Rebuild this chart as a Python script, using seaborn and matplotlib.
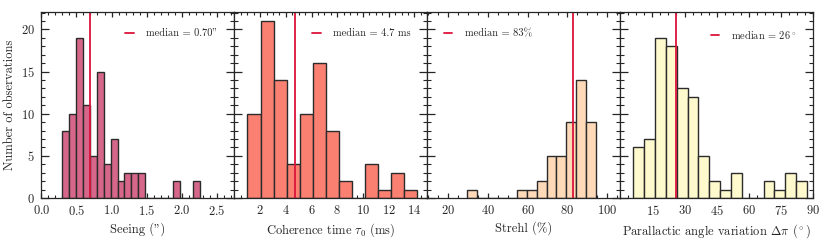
import numpy as np
import pandas as pd
import matplotlib
matplotlib.use("Agg")
import matplotlib.pyplot as plt
import seaborn as sns
from matplotlib.ticker import AutoMinorLocator, MultipleLocator

# histogram counts, one per bin
seeing_counts = [8, 10, 19, 11, 5, 15, 4, 7, 2, 3, 3, 3, 0, 0, 0, 0, 2, 0, 0, 2]
seeing_range = (0.30, 2.265)
tau_counts = [10, 21, 14, 4, 10, 16, 8, 2, 0, 4, 1, 3, 1]
tau_range = (1.02, 14.2)
strehl_counts = [1, 0, 0, 0, 0, 1, 1, 2, 5, 5, 9, 14, 9]
strehl_range = (29.7, 94.4)
pa_counts = [6, 7, 19, 18, 13, 12, 5, 2, 1, 3, 0, 0, 2, 1, 3, 2]
pa_range = (6.0, 87.35)

medians = [0.70, 4.7, 83, 26]
median_labels = ['median = 0.70"', "median = 4.7 ms", "median = 83%", r"median = $26^\circ$"]
xlabels = ['Seeing (")', r"Coherence time $\tau_0$ (ms)", "Strehl (%)",
           r"Parallactic angle variation $\Delta\pi$ ($^\circ$)"]
colors = ["#d6678b", "#fa8072", "#ffdab9", "#fffacd"]

sns.set_style("ticks")
plt.rcParams["font.family"] = "serif"
plt.rcParams["font.serif"] = ["cmr10"]
plt.rcParams["mathtext.fontset"] = "cm"
plt.rcParams["axes.formatter.use_mathtext"] = True
plt.rcParams["font.size"] = 9

fig, axes = plt.subplots(1, 4, figsize=(8.3, 2.42), dpi=100, sharey=True)
fig.subplots_adjust(left=0.0498, right=0.980, top=0.950, bottom=0.182, wspace=0)

panels = [
    (seeing_counts, seeing_range, (0, 2.75), np.arange(0, 2.51, 0.5)),
    (tau_counts, tau_range, (0, 15), np.arange(2, 14.1, 2)),
    (strehl_counts, strehl_range, (9.6, 106.6), np.arange(20, 100.1, 20)),
    (pa_counts, pa_range, (0, 90.3), np.arange(15, 90.1, 15)),
]

for i, (ax, (counts, rng, xlim, xticks)) in enumerate(zip(axes, panels)):
    edges = np.linspace(rng[0], rng[1], len(counts) + 1)
    df = pd.DataFrame({"x": (edges[:-1] + edges[1:]) / 2, "n": counts})
    sns.histplot(data=df, x="x", weights="n", bins=list(edges), ax=ax,
                 color=colors[i], alpha=1, edgecolor="#2b2b2b", linewidth=1.0)
    ax.axvline(medians[i], color="#dc143c", lw=1.3, label=median_labels[i])
    ax.set_xlim(*xlim)
    ax.set_xticks(xticks)
    ax.xaxis.set_minor_locator(AutoMinorLocator())
    ax.yaxis.set_major_locator(MultipleLocator(5))
    ax.yaxis.set_minor_locator(MultipleLocator(1))
    ax.tick_params(which="both", direction="in", top=True, right=True, labelsize=9)
    ax.tick_params(axis="y", which="major", length=5.5, width=0.9, pad=4.5)
    ax.tick_params(axis="y", which="minor", length=3, width=0.8)
    ax.tick_params(axis="x", which="major", length=3.5, width=0.9, pad=4.3)
    ax.tick_params(axis="x", which="minor", length=2.2, width=0.8)
    for s in ax.spines.values():
        s.set_linewidth(0.9)
    ax.set_xlabel(xlabels[i], fontsize=9, labelpad=3)
    ax.set_ylabel("")
    loc = "upper left" if i == 2 else "upper right"
    ax.legend(loc=loc, frameon=False, fontsize=7.5, handlelength=0.8,
              handletextpad=1.2, borderaxespad=1.2)

axes[0].set_ylim(0, 22.05)
axes[0].set_ylabel("Number of observations", fontsize=9)

fig.savefig("out.png", dpi=100)
